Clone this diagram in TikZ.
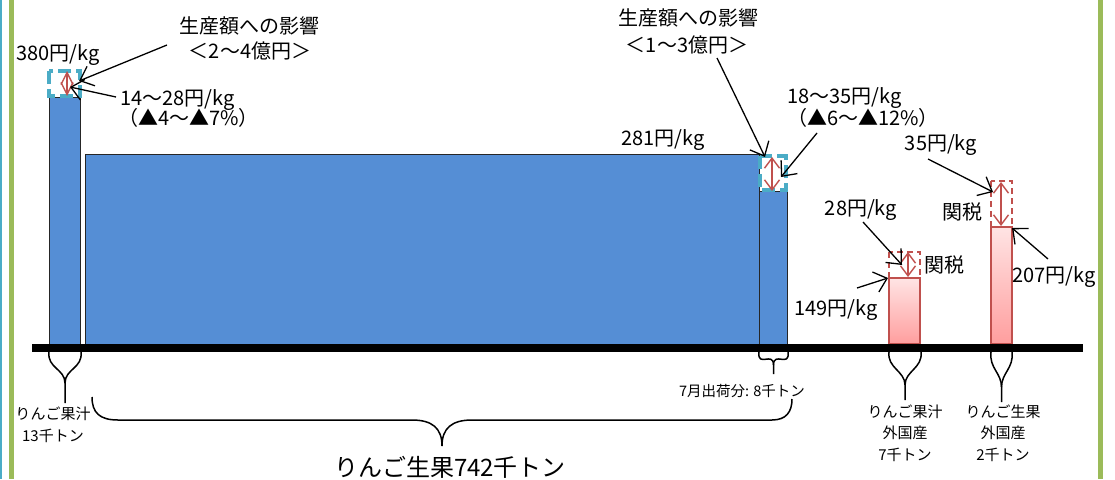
\documentclass[tikz,border=0pt]{standalone}
\usepackage{fontspec}
\setmainfont{Noto Sans CJK JP}
\usetikzlibrary{arrows.meta}
\definecolor{barblue}{HTML}{558ED5}
\definecolor{tealdash}{HTML}{4BACC6}
\definecolor{redline}{HTML}{C0504D}
\definecolor{frameg}{HTML}{9BBB59}
\definecolor{pinktop}{HTML}{FFE4E4}
\definecolor{pinkbot}{HTML}{FF9E9E}
\tikzset{
  lbl/.style={inner sep=0pt, font=\fontsize{20}{23}\selectfont},
  smalllbl/.style={inner sep=0pt, font=\fontsize{15}{21.5}\selectfont, align=center},
  bigbar/.style={fill=barblue, draw=black!85, line width=0.8pt},
  pinkbar/.style={top color=pinktop, bottom color=pinkbot, draw=redline, line width=1.6pt},
  tealbox/.style={draw=tealdash, line width=4pt, dash pattern=on 13pt off 5pt},
  redbox/.style={draw=redline, line width=1.8pt, dash pattern=on 6pt off 4pt},
  callout/.style={draw=black, line width=1.3pt, -{Straight Barb[length=12pt,width=21pt]}},
  redarr/.style={draw=redline, line width=1.4pt, {Straight Barb[length=10pt,width=15pt]}-{Straight Barb[length=10pt,width=15pt]}},
  bracel/.style={draw=black, line width=1.5pt},
}
\begin{document}
\begin{tikzpicture}[x=1pt, y=-1pt]
\useasboundingbox (0,0) rectangle (1115,479);
\fill[white] (0,0) rectangle (1115,479);
% frame
\fill[tealdash] (0,0) rectangle (2,479);
\fill[frameg] (9,0) rectangle (14,479);
\fill[frameg] (1098,0) rectangle (1103,479);

% bars
\path[bigbar] (49,97) rectangle (80,344);
\path[bigbar] (85,154) rectangle (759,344);
\path[bigbar] (759,191) rectangle (787,344);
\path[pinkbar] (889,278) rectangle (920,344);
\path[pinkbar] (991,227) rectangle (1012,344);

% dashed boxes
\path[tealbox] (49,71) rectangle (80,96);
\path[tealbox] (760,156) rectangle (786,190);
\path[redbox] (889,252) rectangle (920,278);
\path[redbox] (991,181) rectangle (1012,227);

% axis
\fill[black] (32,344) rectangle (1083,352);

% red double arrows
\coordinate (r1t) at (67,71);  \coordinate (r1b) at (67,96);
\coordinate (r3t) at (772,157); \coordinate (r3b) at (772,191);
\coordinate (p1t) at (908,252); \coordinate (p1b) at (908,277);
\coordinate (p2t) at (1001,182); \coordinate (p2b) at (1001,226);
\draw[redarr, {Straight Barb[length=12pt,width=12pt]}-{Straight Barb[length=12pt,width=12pt]}] (r1t) -- (r1b);
\draw[redarr] (r3t) -- (r3b);
\draw[redarr] (p1t) -- (p1b);
\draw[redarr] (p2t) -- (p2b);

% labels
\node[lbl] (l380) at (58,55) {380円/kg};
\node[lbl] (imp1a) at (249,26) {生産額への影響};
\node[lbl] (imp1b) at (250,51) {＜2～4億円＞};
\node[lbl, anchor=west] (d1a) at (120,100) {14～28円/kg};
\node[lbl, anchor=west] (d1b) at (118,118) {（▲4～▲7\%）};
\node[lbl] (l281) at (663,140) {281円/kg};
\node[lbl] (imp2a) at (688,18) {生産額への影響};
\node[lbl] (imp2b) at (687,45) {＜1～3億円＞};
\node[lbl, anchor=west] (d2a) at (787,98) {18～35円/kg};
\node[lbl, anchor=west] (d2b) at (787,118) {（▲6～▲12\%）};
\node[lbl] (l28) at (861,210) {28円/kg};
\node[lbl] (tax1) at (944,265) {関税};
\node[lbl] (l149) at (836,310) {149円/kg};
\node[lbl] (l35) at (941,145) {35円/kg};
\node[lbl] (tax2) at (962,212) {関税};
\node[lbl] (l207) at (1054,277) {207円/kg};

% callout arrows
\coordinate (a1s) at (167,45); \coordinate (a1e) at (79,81);
\coordinate (a2s) at (116,97); \coordinate (a2e) at (70,87);
\coordinate (a3s) at (717,58); \coordinate (a3e) at (765,157);
\coordinate (a4s) at (817,133); \coordinate (a4e) at (781,177);
\coordinate (a5s) at (863,222); \coordinate (a5e) at (902,265);
\coordinate (a6s) at (857,288); \coordinate (a6e) at (888,278);
\coordinate (a7s) at (928,159); \coordinate (a7e) at (993,192);
\coordinate (a8s) at (1048,259); \coordinate (a8e) at (1012,228);
\draw[callout] (a1s) -- (a1e);
\draw[callout] (a2s) -- (a2e);
\draw[callout] (a3s) -- (a3e);
\draw[callout] (a4s) -- (a4e);
\draw[callout] (a5s) -- (a5e);
\draw[callout] (a6s) -- (a6e);
\draw[callout] (a7s) -- (a7e);
\draw[callout] (a8s) -- (a8e);

% small braces (Y shape)
\foreach \xl/\xr/\ym/\yt [count=\i] in {49/81/383/403, 759/788/365/374, 889/921/385/400, 991/1012/387/402}{
  \pgfmathsetmacro{\xc}{(\xl+\xr)/2}
  \draw[bracel] (\xl,352) .. controls (\xl-2,368) and (\xc,\ym-14) .. (\xc,\ym) -- (\xc,\yt);
  \draw[bracel] (\xr,352) .. controls (\xr+2,368) and (\xc,\ym-14) .. (\xc,\ym);
}

% big brace
\coordinate (bbl) at (92,397);
\coordinate (bbt) at (442,446);
\coordinate (bbr) at (792,399);
\draw[bracel] (bbl) .. controls (92,413) and (100,420) .. (118,420) -- (412,420)
  .. controls (432,420) and (442,428) .. (bbt);
\draw[bracel] (bbt) .. controls (442,428) and (452,420) .. (472,420) -- (772,420)
  .. controls (786,420) and (792,412) .. (bbr);

% bottom labels
\node[smalllbl] (juice) at (53,425) {りんご果汁\\13千トン};
\node[smalllbl, font=\fontsize{14.5}{17}\selectfont] (july) at (742,391) {7月出荷分: 8千トン};
\node[inner sep=0pt, font=\fontsize{24}{28}\selectfont] (fresh) at (450,467) {りんご生果742千トン};
\node[smalllbl] (fj) at (905,433) {りんご果汁\\外国産\\7千トン};
\node[smalllbl] (ff) at (1003,433) {りんご生果\\外国産\\2千トン};
\end{tikzpicture}
\end{document}
